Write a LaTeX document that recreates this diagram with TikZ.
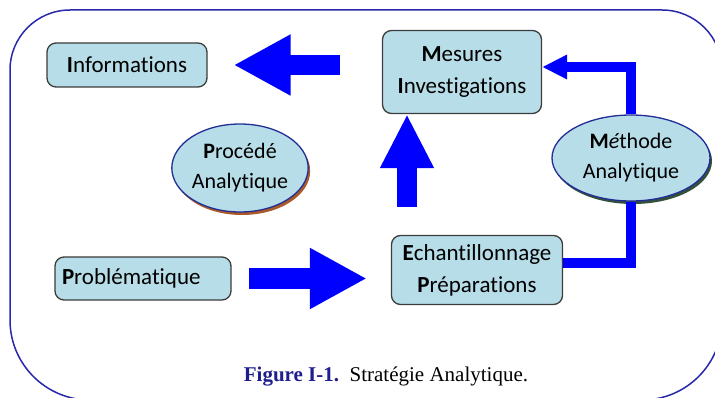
\documentclass[tikz,border=0pt]{standalone}
\usepackage{fontspec}
\setmainfont{Liberation Serif}
\newfontfamily\boxfont[Ligatures={NoCommon, NoDiscretionary}]{Carlito}
\definecolor{boxfill}{RGB}{183, 221, 232}
\definecolor{boxline}{RGB}{60, 60, 60}
\definecolor{arrowblue}{RGB}{0, 0, 255}
\definecolor{framenavy}{RGB}{40, 40, 170}
\definecolor{ovalline}{RGB}{35, 45, 150}
\definecolor{capnavy}{RGB}{30, 30, 140}
\definecolor{shadebrown}{RGB}{170, 90, 40}
\definecolor{shadegreen}{RGB}{50, 80, 60}
\usetikzlibrary{shapes.geometric, arrows.meta, shadows}

\begin{document}
\begin{tikzpicture}[x=1pt, y=-1pt,
  stepbox/.style={draw=boxline, line width=1.3pt, fill=boxfill, rounded corners=9pt, align=center, inner sep=0pt, font=\boxfont\fontsize{23}{32}\selectfont},
  oval/.style={ellipse, draw=ovalline, line width=1.3pt, fill=boxfill, align=center, inner sep=0pt, font=\boxfont\fontsize{22}{30}\selectfont},
  blockarrow/.style={arrowblue, line width=20pt, -{Triangle[length=57pt, width=57pt]}},
  flow/.style={arrowblue, line width=10pt}
]
  \useasboundingbox (0,0) rectangle (715,398);
  % Frame
  \begin{scope}
    \clip (0,0) rectangle (715,398);
    \draw[framenavy, line width=1.5pt] (10,200) [rounded corners=60pt] -- (10,10) -- (722,10) -- (722,200) [rounded corners=80pt] -- (722,400) -- (10,400) [rounded corners=60pt] -- cycle;
  \end{scope}

  % The boxes
  \node[stepbox, minimum width=160pt, minimum height=44pt] (info) at (127, 65) {\textbf{I}nformations};
  \node[stepbox, minimum width=159pt, minimum height=83pt] (mes) at (462, 72) {\textbf{M}esures\\\textbf{I}nvestigations};
  \node[stepbox, minimum width=176pt, minimum height=43pt, text width=162pt, align=left] (prob) at (143, 278.5) {\textbf{P}roblématique};
  \node[stepbox, minimum width=171pt, minimum height=69pt] (ech) at (477, 270) {\textbf{E}chantillonnage\\\textbf{P}réparations};

  % The ovals
  \node[oval, minimum width=126pt, minimum height=88pt, drop shadow={shadow xshift=2pt, shadow yshift=-3pt, fill=shadebrown, opacity=1}] (proc) at (240, 168) {\textbf{P}rocédé\\Analytique};
  \node[oval, minimum width=158pt, minimum height=86pt, drop shadow={shadow xshift=2pt, shadow yshift=-3pt, fill=shadegreen, opacity=1}] (meth) at (631, 158) {\textbf{M}\textit{é}thode\\Analytique};

  % Block arrows
  \draw[blockarrow, shorten <=17pt, shorten >=24pt] (prob.east) -- (prob.east -| ech.west);
  \coordinate (upx) at (407, 0);
  \draw[blockarrow, -{Triangle[length=54pt, width=50pt]}, shorten <=28pt] (ech.north -| upx) -- (mes.south -| upx);
  \draw[blockarrow, shorten <=42pt, shorten >=26pt] (mes.west |- info.east) -- (info.east);

  % Elbow from the sampling box back to the measures
  \draw[flow] ([yshift=7pt]ech.east) -| (meth.south);
  \draw[flow, -{Triangle[length=25pt, width=23pt]}] (meth.north) |- ([yshift=5pt]mes.east);

  % Caption
  \node[font=\fontsize{21}{24}\selectfont] (cap) at (386, 377) {\textcolor{capnavy}{\textbf{Figure I-1.}}\ \ Stratégie Analytique.};
\end{tikzpicture}
\end{document}
